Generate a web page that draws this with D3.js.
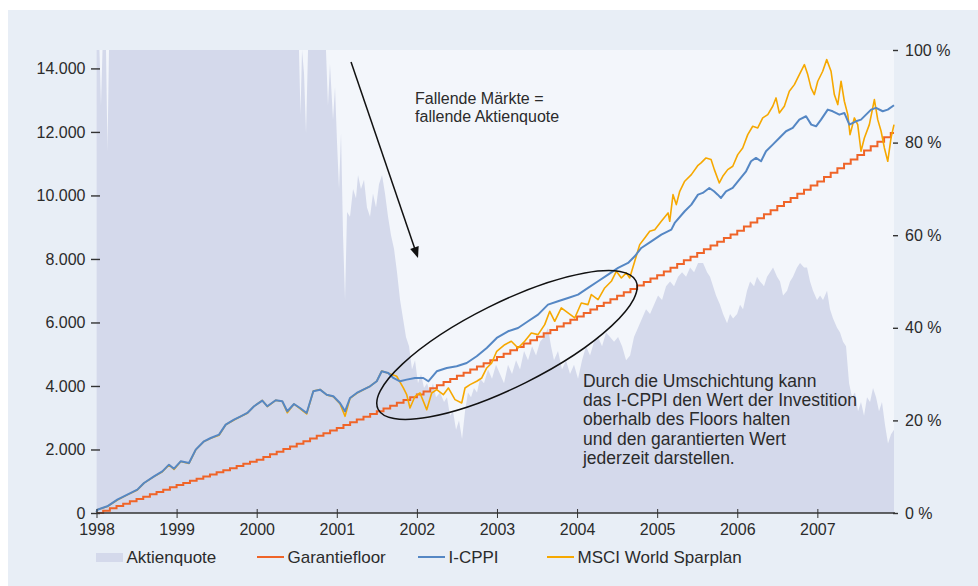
<!DOCTYPE html>
<html>
<head>
<meta charset="utf-8">
<script src="https://cdn.jsdelivr.net/npm/d3@7"></script>
<style>
  body { margin: 0; background: #ffffff; }
  svg { display: block; }
  text { font-family: "Liberation Sans", Arial, sans-serif; fill: #2b2b2b; }
</style>
</head>
<body>
<div id="chart"></div>
<script>
// tick labels
var yearTicks = [1998, 1999, 2000, 2001, 2002, 2003, 2004, 2005, 2006, 2007];
var valueTicks = [0, 2000, 4000, 6000, 8000, 10000, 12000, 14000];
var quoteTicks = [0, 20, 40, 60, 80, 100];
var legendLabels = ["Aktienquote", "Garantiefloor", "I-CPPI", "MSCI World Sparplan"];

// Garantiefloor, one value per month from Jan 1998
var floorMonthly = [
  0, 73, 147, 220, 293, 367, 440, 513, 587, 660, 733, 807,
  880, 947, 1013, 1080, 1147, 1213, 1280, 1347, 1413, 1480, 1547, 1613,
  1680, 1763, 1847, 1930, 2013, 2097, 2180, 2263, 2347, 2430, 2513, 2597,
  2680, 2768, 2855, 2943, 3030, 3118, 3205, 3293, 3380, 3468, 3555, 3643,
  3730, 3828, 3927, 4025, 4123, 4222, 4320, 4418, 4517, 4615, 4713, 4812,
  4910, 5017, 5123, 5230, 5337, 5443, 5550, 5657, 5763, 5870, 5977, 6083,
  6190, 6298, 6407, 6515, 6623, 6732, 6840, 6948, 7057, 7165, 7273, 7382,
  7490, 7607, 7723, 7840, 7957, 8073, 8190, 8307, 8423, 8540, 8657, 8773,
  8890, 9019, 9148, 9278, 9407, 9536, 9665, 9794, 9923, 10053, 10182, 10311,
  10440, 10579, 10718, 10857, 10996, 11135, 11274, 11413, 11552, 11691, 11830, 11969
];
var endYear = 2007.957;

// I-CPPI
var cppiT = [1998.0, 1998.01, 1998.135, 1998.26, 1998.385, 1998.51, 1998.593, 1998.718, 1998.822, 1998.905,
  1998.968, 1999.051, 1999.155, 1999.239, 1999.342, 1999.426, 1999.53, 1999.613, 1999.717, 1999.8,
  1999.883, 1999.967, 2000.07, 2000.133, 2000.237, 2000.32, 2000.382, 2000.466, 2000.541, 2000.624,
  2000.707, 2000.791, 2000.874, 2000.957, 2001.04, 2001.103, 2001.165, 2001.249, 2001.331, 2001.415,
  2001.499, 2001.561, 2001.643, 2001.706, 2001.789, 2001.873, 2001.977, 2002.08, 2002.143, 2002.248,
  2002.373, 2002.497, 2002.622, 2002.747, 2002.872, 2002.997, 2003.138, 2003.263, 2003.388, 2003.513,
  2003.637, 2003.762, 2003.887, 2004.012, 2004.137, 2004.262, 2004.387, 2004.512, 2004.637, 2004.72,
  2004.802, 2004.927, 2005.052, 2005.177, 2005.219, 2005.344, 2005.427, 2005.51, 2005.569, 2005.651,
  2005.71, 2005.756, 2005.797, 2005.86, 2005.943, 2006.026, 2006.11, 2006.172, 2006.234, 2006.297,
  2006.359, 2006.443, 2006.525, 2006.609, 2006.693, 2006.775, 2006.859, 2006.924, 2006.984, 2007.046,
  2007.13, 2007.192, 2007.275, 2007.337, 2007.4, 2007.483, 2007.545, 2007.608, 2007.671, 2007.733,
  2007.816, 2007.879, 2007.957];
var cppiV = [30, 104, 211, 420, 577, 735, 945, 1155, 1312, 1522,
  1396, 1627, 1575, 1995, 2257, 2362, 2467, 2782, 2940, 3045,
  3150, 3360, 3538, 3360, 3549, 3517, 3203, 3433, 3307, 3150,
  3833, 3884, 3726, 3675, 3465, 3203, 3622, 3780, 3884, 3990,
  4148, 4463, 4409, 4252, 4148, 4200, 4252, 4252, 4148, 4463,
  4567, 4620, 4724, 4935, 5197, 5512, 5722, 5827, 6037, 6247,
  6562, 6667, 6772, 6877, 7087, 7297, 7507, 7717, 7874, 8084,
  8346, 8556, 8766, 8923, 9134, 9502, 9711, 10025, 10079, 10236,
  10131, 10025, 9921, 10130, 10236, 10498, 10761, 11076, 11181, 11076,
  11392, 11601, 11811, 12022, 12126, 12387, 12494, 12230, 12178, 12387,
  12702, 12650, 12545, 12598, 12230, 12335, 12387, 12545, 12702, 12756,
  12651, 12702, 12840];

// MSCI World Sparplan
var msciT = [1998.0, 1998.01, 1998.135, 1998.26, 1998.385, 1998.51, 1998.593, 1998.718, 1998.822, 1998.905,
  1998.968, 1999.051, 1999.155, 1999.239, 1999.342, 1999.426, 1999.53, 1999.613, 1999.717, 1999.8,
  1999.883, 1999.967, 2000.07, 2000.133, 2000.237, 2000.32, 2000.382, 2000.466, 2000.541, 2000.624,
  2000.707, 2000.791, 2000.874, 2000.957, 2001.04, 2001.103, 2001.165, 2001.249, 2001.331, 2001.415,
  2001.499, 2001.561, 2001.643, 2001.748, 2001.831, 2001.873, 2001.914, 2001.977, 2002.039, 2002.123,
  2002.185, 2002.248, 2002.33, 2002.393, 2002.476, 2002.56, 2002.601, 2002.664, 2002.747, 2002.81,
  2002.872, 2002.934, 2002.997, 2003.097, 2003.179, 2003.263, 2003.346, 2003.429, 2003.513, 2003.596,
  2003.659, 2003.721, 2003.803, 2003.887, 2003.971, 2004.053, 2004.137, 2004.178, 2004.262, 2004.345,
  2004.428, 2004.49, 2004.553, 2004.615, 2004.657, 2004.72, 2004.782, 2004.845, 2004.907, 2004.97,
  2005.052, 2005.136, 2005.157, 2005.198, 2005.239, 2005.282, 2005.344, 2005.427, 2005.51, 2005.548,
  2005.61, 2005.673, 2005.714, 2005.776, 2005.819, 2005.881, 2005.944, 2006.006, 2006.068, 2006.131,
  2006.193, 2006.256, 2006.318, 2006.381, 2006.443, 2006.484, 2006.525, 2006.588, 2006.65, 2006.713,
  2006.775, 2006.838, 2006.88, 2006.921, 2006.962, 2007.005, 2007.067, 2007.117, 2007.171, 2007.212,
  2007.255, 2007.296, 2007.337, 2007.38, 2007.408, 2007.462, 2007.504, 2007.545, 2007.587, 2007.649,
  2007.712, 2007.754, 2007.796, 2007.837, 2007.879, 2007.92, 2007.957];
var msciV = [30, 100, 205, 410, 570, 725, 940, 1145, 1300, 1515,
  1370, 1620, 1560, 1990, 2250, 2350, 2450, 2780, 2930, 3040,
  3140, 3360, 3545, 3350, 3550, 3510, 3160, 3430, 3290, 3120,
  3840, 3890, 3720, 3660, 3440, 3045, 3610, 3770, 3880, 3990,
  4150, 4470, 4400, 4306, 3937, 3726, 3307, 3675, 3780, 3254,
  3780, 3884, 3726, 3937, 3570, 3465, 3937, 4042, 4148, 4252,
  4567, 4724, 5093, 5300, 5408, 5197, 5408, 5669, 5617, 5931,
  6352, 6037, 6457, 6299, 6142, 6614, 6562, 6877, 6719, 7087,
  7297, 7612, 7402, 7560, 7402, 7927, 8451, 8661, 8871, 8923,
  9186, 9449, 9186, 10025, 9711, 10130, 10448, 10655, 10950, 11024,
  11181, 11129, 10813, 10393, 10603, 10813, 10918, 11286, 11496, 11916,
  12179, 12126, 12441, 12545, 12809, 13071, 12598, 12809, 13281, 13490,
  13805, 14120, 13805, 13386, 13176, 13596, 13911, 14277, 13911, 13176,
  12861, 13597, 12966, 12545, 11916, 12441, 12231, 11392, 11811, 12230,
  13018, 12387, 12022, 11496, 11076, 11811, 12230];

// Aktienquote in percent
var quoteT = [1998.0, 1998.037, 1998.056, 1998.075, 1998.119, 1998.137, 1998.156, 1999.0, 2000.0, 2000.528,
  2000.547, 2000.566, 2000.591, 2000.616, 2000.641, 2000.865, 2000.89, 2000.915, 2000.953, 2000.978,
  2001.003, 2001.028, 2001.053, 2001.078, 2001.103, 2001.128, 2001.165, 2001.203, 2001.24, 2001.265,
  2001.302, 2001.34, 2001.377, 2001.415, 2001.452, 2001.49, 2001.527, 2001.565, 2001.602, 2001.64,
  2001.677, 2001.715, 2001.752, 2001.79, 2001.827, 2001.864, 2001.902, 2001.939, 2001.977, 2002.014,
  2002.052, 2002.089, 2002.127, 2002.164, 2002.201, 2002.239, 2002.289, 2002.339, 2002.376, 2002.414,
  2002.451, 2002.489, 2002.526, 2002.564, 2002.601, 2002.638, 2002.676, 2002.713, 2002.751, 2002.788,
  2002.838, 2002.888, 2002.938, 2002.988, 2003.038, 2003.088, 2003.138, 2003.188, 2003.238, 2003.288,
  2003.338, 2003.388, 2003.438, 2003.488, 2003.538, 2003.588, 2003.637, 2003.675, 2003.712, 2003.762,
  2003.812, 2003.862, 2003.912, 2003.962, 2004.012, 2004.062, 2004.112, 2004.162, 2004.212, 2004.262,
  2004.312, 2004.362, 2004.412, 2004.462, 2004.512, 2004.562, 2004.612, 2004.662, 2004.711, 2004.761,
  2004.811, 2004.861, 2004.911, 2004.961, 2005.011, 2005.061, 2005.111, 2005.161, 2005.211, 2005.261,
  2005.311, 2005.361, 2005.411, 2005.461, 2005.511, 2005.573, 2005.623, 2005.66, 2005.698, 2005.735,
  2005.785, 2005.823, 2005.873, 2005.91, 2005.948, 2005.998, 2006.035, 2006.072, 2006.122, 2006.16,
  2006.21, 2006.247, 2006.284, 2006.334, 2006.372, 2006.409, 2006.447, 2006.497, 2006.534, 2006.572,
  2006.622, 2006.659, 2006.696, 2006.746, 2006.784, 2006.834, 2006.871, 2006.909, 2006.946, 2006.996,
  2007.034, 2007.071, 2007.121, 2007.158, 2007.196, 2007.246, 2007.283, 2007.321, 2007.358, 2007.396,
  2007.433, 2007.47, 2007.508, 2007.545, 2007.583, 2007.62, 2007.658, 2007.695, 2007.733, 2007.77,
  2007.807, 2007.845, 2007.882, 2007.92, 2007.957];
var quoteV = [100, 100, 88, 100, 100, 78, 100, 100, 100, 100,
  86, 100, 95, 82, 100, 100, 88, 97, 85, 92,
  80, 70, 82, 60, 46, 65, 64, 70, 68, 73,
  70, 72, 66, 64, 69, 66, 71, 73, 69, 64,
  60, 57, 52, 46, 42, 38, 36, 31, 33, 28,
  30, 27, 28, 26, 28, 25, 26, 24, 25, 21,
  22, 18, 20, 16, 22, 26, 25, 27, 26, 29,
  28, 31, 29, 32, 30, 28, 32, 30, 33, 31,
  35, 33, 36, 34, 37, 38, 40, 36, 33, 35,
  31, 33, 30, 32, 29, 33, 36, 34, 37, 38,
  36, 39, 38, 37, 38, 36, 33, 34, 38, 40,
  42, 44, 43, 45, 47, 46, 49, 50, 49, 51,
  52, 51, 53, 52, 54, 54, 52, 51, 49, 47,
  45, 43, 41, 43, 42, 43, 45, 44, 48, 50,
  49, 51, 50, 49, 51, 52, 53, 51, 50, 47,
  48, 50, 51, 53, 54, 53, 53, 50, 48, 46,
  47, 46, 48, 44, 42, 40, 39, 37, 36, 28,
  25, 26, 22, 24, 21, 25, 24, 27, 25, 22,
  24, 19, 15, 17, 18];

function init() {
  var W = 978, H = 586;
  var pLeft = 96.5, pRight = 894, pTop = 50, pBottom = 513;

  var svg = d3.select("#chart")
    .append("svg")
    .attr("width", W)
    .attr("height", H);

  // backgrounds
  svg.append("rect")
    .attr("x", 8).attr("y", 10)
    .attr("width", W - 8).attr("height", H - 10)
    .attr("fill", "#e8eef6");
  svg.append("rect")
    .attr("x", pLeft).attr("y", pTop)
    .attr("width", pRight - pLeft).attr("height", pBottom - pTop)
    .attr("fill", "#f3f6fb");

  var x = d3.scaleLinear().domain([1998, endYear]).range([pLeft, pRight]);
  var y = d3.scaleLinear().domain([0, 14580]).range([pBottom, pTop]);
  var yQ = d3.scaleLinear().domain([0, 100]).range([pBottom, pTop]);

  var zip = function(t, v) {
    return t.map(function(d, i) { return { t: d, v: v[i] }; });
  };
  var quote = zip(quoteT, quoteV);
  var cppi = zip(cppiT, cppiV);
  var msci = zip(msciT, msciV);
  var floorPts = floorMonthly.map(function(d, i) { return { t: 1998 + i / 12, v: d }; });
  floorPts.push({ t: endYear, v: floorMonthly[floorMonthly.length - 1] });

  // Aktienquote area
  svg.append("path")
    .datum(quote)
    .attr("fill", "#d4d9eb")
    .attr("d", d3.area()
      .x(function(d) { return x(d.t); })
      .y0(yQ(0))
      .y1(function(d) { return yQ(d.v); }));

  var line = d3.line()
    .x(function(d) { return x(d.t); })
    .y(function(d) { return y(d.v); });

  svg.append("path")
    .datum(floorPts)
    .attr("fill", "none")
    .attr("stroke", "#ef6428")
    .attr("stroke-width", 2)
    .attr("d", d3.line().curve(d3.curveStepAfter)
      .x(function(d) { return x(d.t); })
      .y(function(d) { return y(d.v); }));

  svg.append("path")
    .datum(msci)
    .attr("fill", "none")
    .attr("stroke", "#f6a800")
    .attr("stroke-width", 1.6)
    .attr("stroke-linejoin", "round")
    .attr("d", line);

  svg.append("path")
    .datum(cppi)
    .attr("fill", "none")
    .attr("stroke", "#5587c4")
    .attr("stroke-width", 2)
    .attr("stroke-linejoin", "round")
    .attr("d", line);

  // axes
  var de = d3.formatLocale({ decimal: ",", thousands: ".", grouping: [3], currency: ["", " €"] });

  var xAxis = svg.append("g")
    .attr("transform", "translate(0," + pBottom + ")")
    .call(d3.axisBottom(x).tickValues(yearTicks).tickFormat(d3.format("d"))
      .tickSizeInner(5).tickSizeOuter(0).tickPadding(6));
  xAxis.select(".domain").attr("stroke", "#333").attr("stroke-width", 1.4)
    .attr("d", "M" + pLeft + ",0H" + (pRight + 1));
  xAxis.selectAll(".tick line").attr("y1", -4).attr("stroke", "#333");
  xAxis.selectAll("text").attr("font-size", 16).attr("fill", "#2b2b2b");

  var yAxis = svg.append("g")
    .attr("transform", "translate(" + pLeft + ",0)")
    .call(d3.axisLeft(y).tickValues(valueTicks).tickFormat(de.format(",d"))
      .tickSize(6).tickPadding(5));
  yAxis.select(".domain").remove();
  yAxis.selectAll(".tick line").attr("x1", 3.5).attr("x2", -5.5)
    .attr("stroke", "#333").attr("stroke-width", 1.4);
  yAxis.selectAll("text").attr("font-size", 16).attr("fill", "#2b2b2b");

  var qAxis = svg.append("g")
    .attr("transform", "translate(" + pRight + ",0)")
    .call(d3.axisRight(yQ).tickValues(quoteTicks).tickFormat(function(d) { return d + " %"; })
      .tickSize(4).tickPadding(7));
  qAxis.select(".domain").remove();
  qAxis.selectAll(".tick line").attr("x1", -1).attr("stroke", "#333").attr("stroke-width", 1.4);
  qAxis.selectAll("text").attr("font-size", 16).attr("fill", "#2b2b2b");

  // annotations
  var ann = svg.append("g");
  var a0 = [x(2001.178), y(14205)], a1 = [x(2002.014), y(8031)];
  var ang = Math.atan2(a1[1] - a0[1], a1[0] - a0[0]);
  var head = 11, half = 4.5;
  ann.append("line")
    .attr("x1", a0[0]).attr("y1", a0[1])
    .attr("x2", a1[0] - Math.cos(ang) * head * 0.8).attr("y2", a1[1] - Math.sin(ang) * head * 0.8)
    .attr("stroke", "#111").attr("stroke-width", 1.5);
  ann.append("path")
    .attr("fill", "#111")
    .attr("d", "M" + a1[0] + "," + a1[1] +
      "L" + (a1[0] - Math.cos(ang) * head - Math.sin(ang) * half) + "," + (a1[1] - Math.sin(ang) * head + Math.cos(ang) * half) +
      "L" + (a1[0] - Math.cos(ang) * head + Math.sin(ang) * half) + "," + (a1[1] - Math.sin(ang) * head - Math.cos(ang) * half) + "Z");

  var t1 = ann.append("text")
    .attr("x", x(2001.977)).attr("y", y(12882))
    .attr("font-size", 16);
  t1.append("tspan").attr("x", x(2001.977)).text("Fallende Märkte =");
  t1.append("tspan").attr("x", x(2001.977)).attr("dy", 18).text("fallende Aktienquote");

  ann.append("ellipse")
    .attr("cx", 0).attr("cy", 0)
    .attr("rx", 144).attr("ry", 42)
    .attr("transform", "translate(" + x(2003.125) + "," + y(5291) + ") rotate(-26.5)")
    .attr("fill", "none").attr("stroke", "#111").attr("stroke-width", 1.5);

  var noteLines = ["Durch die Umschichtung kann", "das I-CPPI den Wert der Investition",
    "oberhalb des Floors halten", "und den garantierten Wert", "jederzeit darstellen."];
  ann.append("text")
    .attr("font-size", 17.5)
    .selectAll("tspan")
    .data(noteLines)
    .enter()
    .append("tspan")
    .attr("x", x(2004.074))
    .attr("y", function(d, i) { return y(3967) + i * 19.2; })
    .text(function(d) { return d; });

  // legend
  var legX = [96, 257, 418, 547];
  var legColors = ["#d4d9eb", "#ef6428", "#5587c4", "#f6a800"];
  var leg = svg.append("g");
  legendLabels.forEach(function(label, i) {
    if (i === 0) {
      leg.append("rect").attr("x", legX[i]).attr("y", 553).attr("width", 27).attr("height", 9)
        .attr("fill", legColors[i]);
    } else {
      leg.append("line").attr("x1", legX[i]).attr("x2", legX[i] + 27)
        .attr("y1", 557).attr("y2", 557)
        .attr("stroke", legColors[i]).attr("stroke-width", 2);
    }
    leg.append("text").attr("x", legX[i] + 30.5).attr("y", 563)
      .attr("font-size", 17).text(label);
  });
}

window.onload = init;
</script>
</body>
</html>
